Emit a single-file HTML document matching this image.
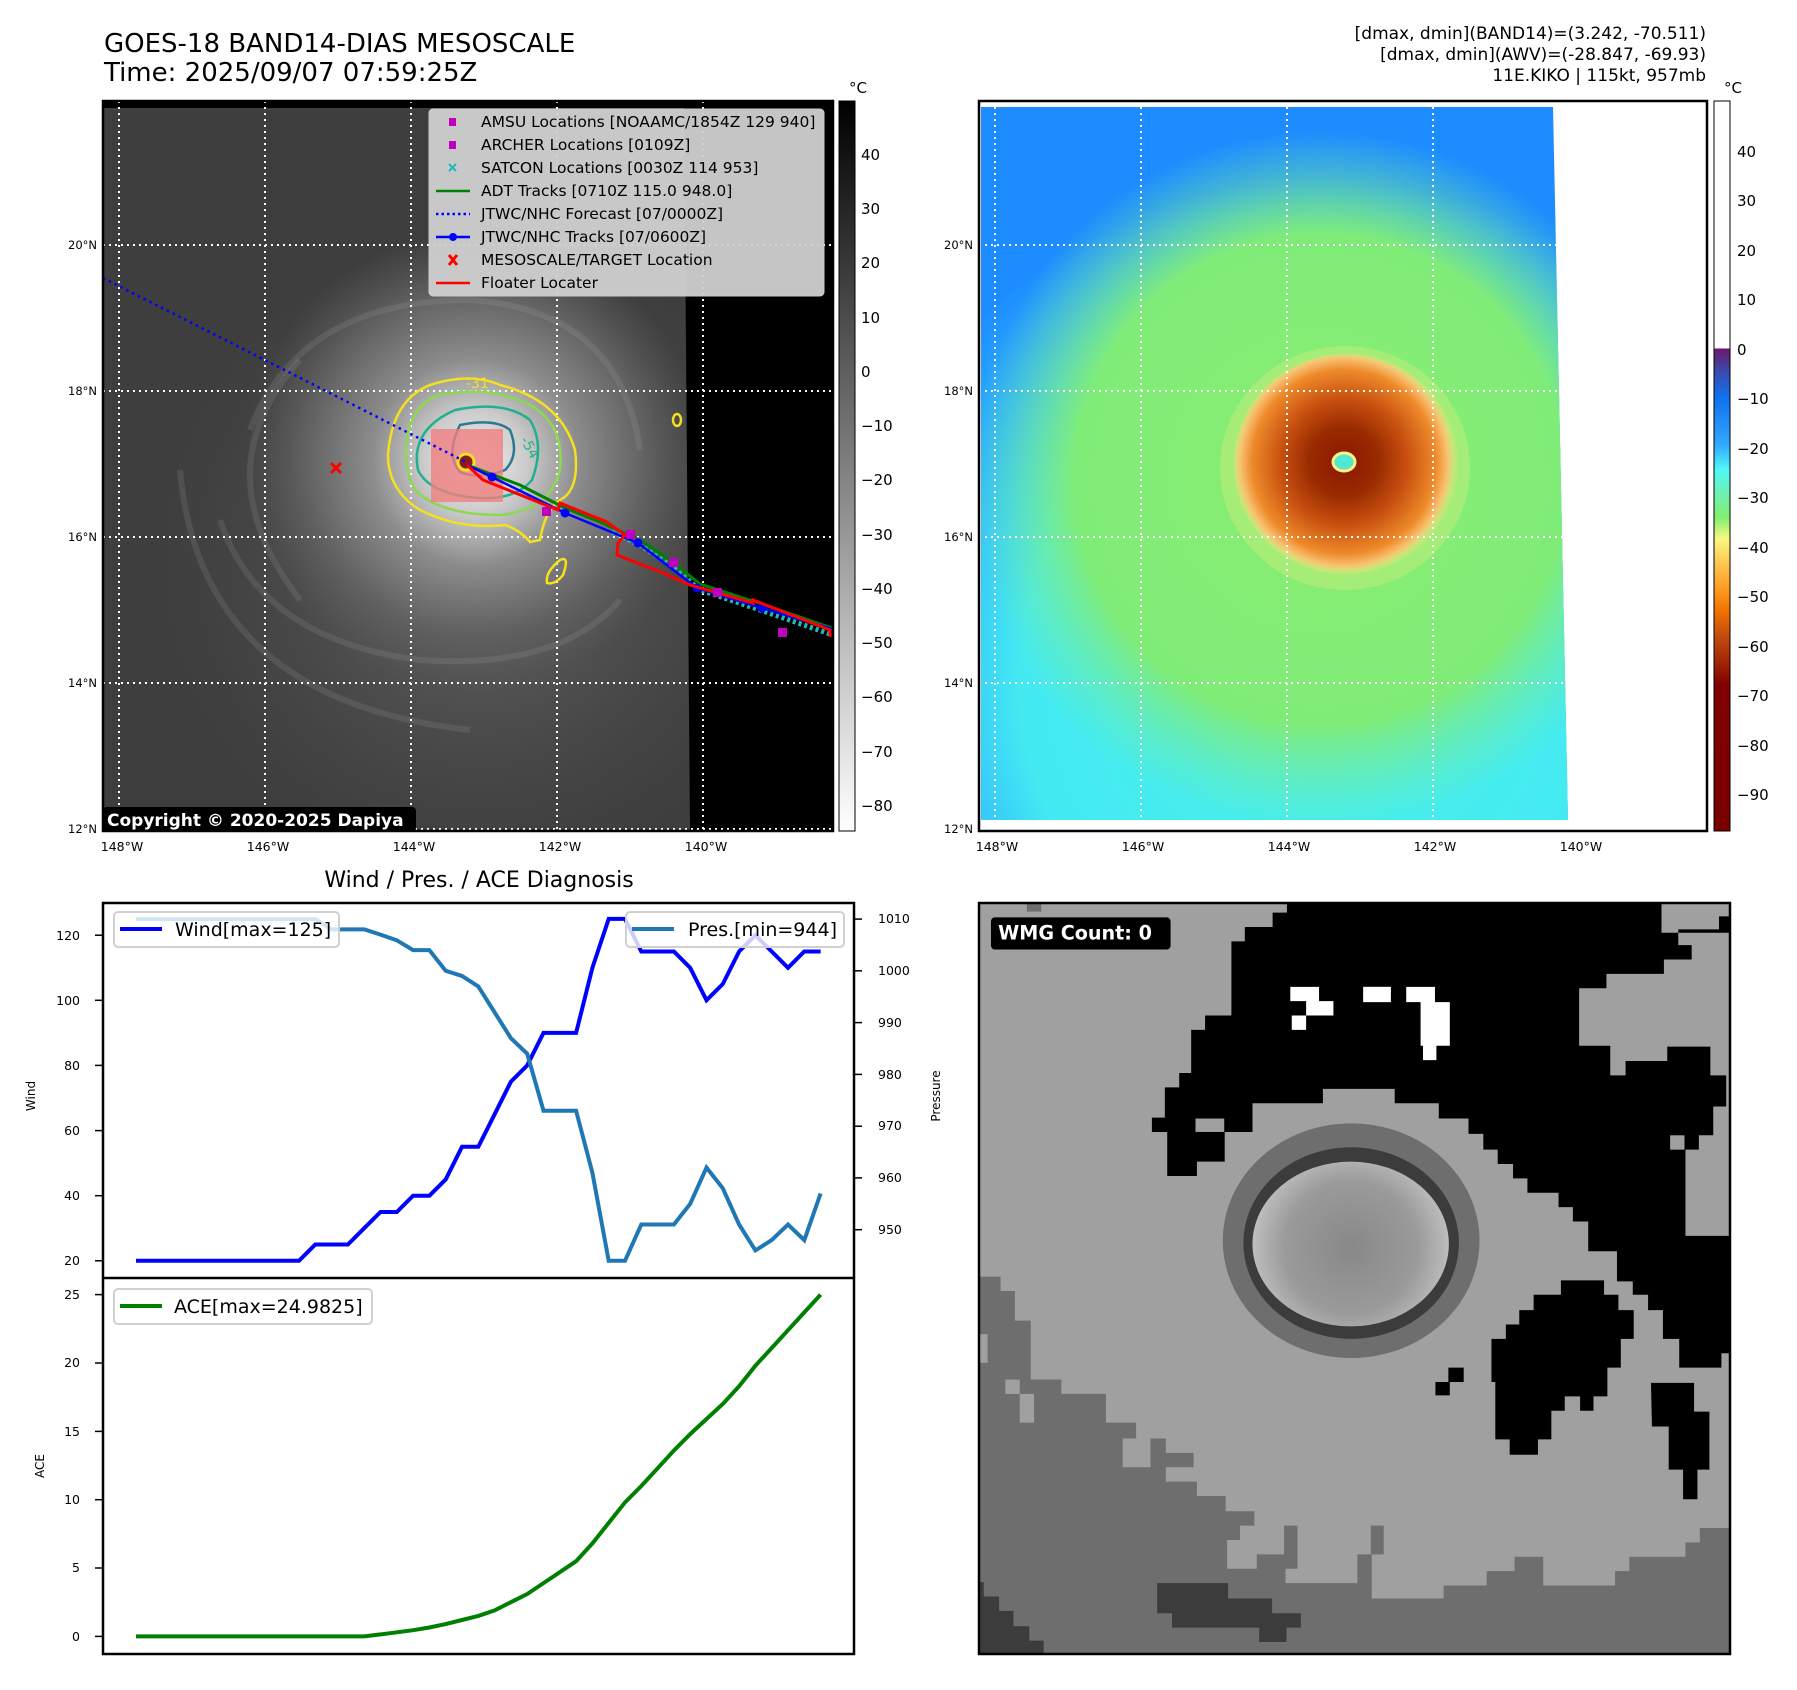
<!DOCTYPE html>
<html><head><meta charset="utf-8"><style>
html,body{margin:0;padding:0;background:#fff;}
svg{display:block;font-family:"DejaVu Sans","Liberation Sans",sans-serif;}
</style></head><body>
<svg width="1797" height="1690" viewBox="0 0 1797 1690" xmlns="http://www.w3.org/2000/svg">
<defs>
<clipPath id="c1"><rect x="103" y="101" width="730" height="730"/></clipPath>
<clipPath id="c2"><rect x="979" y="101" width="728" height="730"/></clipPath>
<clipPath id="c3"><rect x="103" y="903" width="751" height="751"/></clipPath>
<linearGradient id="cb1" x1="0" y1="0" x2="0" y2="1"><stop offset="0" stop-color="#000"/><stop offset="1" stop-color="#fff"/></linearGradient>
<linearGradient id="cb2" x1="0" y1="0" x2="0" y2="1">
<stop offset="0" stop-color="#fff"/><stop offset="0.338" stop-color="#fff"/>
<stop offset="0.34" stop-color="#6a1a6e"/><stop offset="0.37" stop-color="#3a4aaa"/>
<stop offset="0.405" stop-color="#1070ee"/><stop offset="0.47" stop-color="#30a8ff"/>
<stop offset="0.505" stop-color="#50f8f8"/><stop offset="0.54" stop-color="#70f0b0"/>
<stop offset="0.57" stop-color="#80f070"/><stop offset="0.6" stop-color="#f8f880"/>
<stop offset="0.635" stop-color="#fdc450"/><stop offset="0.67" stop-color="#ff9a20"/>
<stop offset="0.7" stop-color="#f07000"/><stop offset="0.735" stop-color="#c04a10"/>
<stop offset="0.77" stop-color="#a02505"/><stop offset="0.8" stop-color="#800000"/>
<stop offset="1" stop-color="#7a0000"/></linearGradient>
<radialGradient id="g1" cx="475" cy="462" r="230" gradientUnits="userSpaceOnUse">
<stop offset="0" stop-color="#eeeeee"/><stop offset="0.22" stop-color="#cccccc"/><stop offset="0.45" stop-color="#8c8c8c"/><stop offset="0.75" stop-color="#606060"/><stop offset="1" stop-color="#555" stop-opacity="0"/></radialGradient>
<radialGradient id="g1b" cx="480" cy="560" r="330" gradientUnits="userSpaceOnUse">
<stop offset="0" stop-color="#6a6a6a"/><stop offset="1" stop-color="#4a4a4a" stop-opacity="0"/></radialGradient>
<radialGradient id="m2cy" cx="1320" cy="680" r="500" gradientUnits="userSpaceOnUse">
<stop offset="0" stop-color="#48f0e8"/><stop offset="0.6" stop-color="#44eaf2"/><stop offset="1" stop-color="#40d8ff" stop-opacity="0"/></radialGradient>
<radialGradient id="m2gr" cx="1320" cy="480" r="350" gradientUnits="userSpaceOnUse">
<stop offset="0" stop-color="#8aee70"/><stop offset="0.7" stop-color="#80ec78"/><stop offset="1" stop-color="#70ecb0" stop-opacity="0"/></radialGradient>
<radialGradient id="m2core" cx="1344" cy="462" r="115" gradientUnits="userSpaceOnUse">
<stop offset="0" stop-color="#8a1800"/><stop offset="0.3" stop-color="#9a2a00"/><stop offset="0.55" stop-color="#c85010"/><stop offset="0.8" stop-color="#ee8a2a"/><stop offset="0.9" stop-color="#f8c070"/><stop offset="1" stop-color="#f8f080" stop-opacity="0"/></radialGradient>
<radialGradient id="eye3" cx="777" cy="720" r="230" gradientUnits="userSpaceOnUse">
<stop offset="0" stop-color="#888"/><stop offset="0.6" stop-color="#9a9a9a"/><stop offset="0.85" stop-color="#b8b8b8"/><stop offset="1" stop-color="#d0d0d0"/></radialGradient>
</defs>

<text x="104" y="52" font-size="26">GOES-18 BAND14-DIAS MESOSCALE</text>
<text x="104" y="81" font-size="26">Time: 2025/09/07 07:59:25Z</text>
<text x="1706" y="39" font-size="17" text-anchor="end">[dmax, dmin](BAND14)=(3.242, -70.511)</text>
<text x="1706" y="60" font-size="17" text-anchor="end">[dmax, dmin](AWV)=(-28.847, -69.93)</text>
<text x="1706" y="81" font-size="17" text-anchor="end">11E.KIKO | 115kt, 957mb</text>

<!-- MAP 1 -->
<g clip-path="url(#c1)">
<rect x="103" y="101" width="730" height="730" fill="#3e3e3e"/>
<rect x="103" y="101" width="730" height="730" fill="url(#g1b)"/>
<rect x="103" y="101" width="730" height="730" fill="url(#g1)"/>
<g fill="none" stroke="#b8b8b8" stroke-opacity="0.14" stroke-width="6">
<path d="M250 430 Q300 300 470 300 Q620 310 640 450"/>
<path d="M220 520 Q260 640 420 660 Q560 670 620 600"/>
<path d="M180 470 Q200 700 470 730"/>
<path d="M300 360 Q200 470 300 600"/>
</g>
<polygon points="684,101 833,101 833,831 690,831" fill="#000"/>
<rect x="103" y="101" width="730" height="7" fill="#000"/>
<g stroke="#fff" stroke-width="2" stroke-dasharray="2,4">
<line x1="119" y1="101" x2="119" y2="831"/><line x1="265" y1="101" x2="265" y2="831"/><line x1="411" y1="101" x2="411" y2="831"/><line x1="557" y1="101" x2="557" y2="831"/><line x1="703" y1="101" x2="703" y2="831"/>
<line x1="103" y1="245" x2="833" y2="245"/><line x1="103" y1="391" x2="833" y2="391"/><line x1="103" y1="537" x2="833" y2="537"/><line x1="103" y1="683" x2="833" y2="683"/><line x1="103" y1="829" x2="833" y2="829"/>
</g>
<path d="M430 385 Q470 372 500 385 Q560 400 575 450 Q580 490 560 500 Q545 510 540 540 L530 542 Q520 530 505 525 Q460 530 420 510 Q388 490 388 455 Q392 400 430 385 Z" fill="none" stroke="#f5e020" stroke-width="2.5"/>
<path d="M560 560 Q570 555 563 575 Q555 585 547 583 Q545 572 560 560Z" fill="none" stroke="#f5e020" stroke-width="2.5"/>
<ellipse cx="677" cy="420" rx="4" ry="6" fill="none" stroke="#f5e020" stroke-width="2.5"/>
<path d="M440 395 Q490 385 530 405 Q565 425 560 470 Q550 510 500 515 Q440 515 415 490 Q400 460 410 425 Q420 400 440 395Z" fill="none" stroke="#8cd850" stroke-width="2.5"/>
<path d="M455 410 Q505 400 530 420 Q545 445 532 480 Q515 500 480 498 Q430 495 418 470 Q410 430 455 410Z" fill="none" stroke="#20b090" stroke-width="2.5"/>
<path d="M460 425 Q495 418 510 430 Q520 455 505 470 Q480 480 460 472 Q445 455 460 425Z" fill="none" stroke="#2a7a90" stroke-width="2.5"/>
<text x="466" y="388" font-size="14" fill="#f5e020">-31</text>
<text x="520" y="440" font-size="14" fill="#20b090" transform="rotate(60 520 440)">-54</text>
<rect x="431" y="429" width="72" height="73" fill="#f08080" fill-opacity="0.8"/>
<circle cx="466" cy="462" r="8" fill="#8a1a1a" stroke="#f0e020" stroke-width="3"/>
<line x1="103" y1="278" x2="466" y2="462" stroke="#0000ff" stroke-width="2.5" stroke-dasharray="2.5,4"/>
<path d="M612 532 L640 545 L670 565 L700 590 L760 610 L830 634" fill="none" stroke="#1cbcbc" stroke-width="5" stroke-dasharray="3,3"/>
<polyline points="467,465 520,485 565,508 600,522 640,540 670,560 700,584 762,604 832,628" fill="none" stroke="#008000" stroke-width="3"/>
<polyline points="467,465 492,477 565,513 638,543 697,588 762,608 832,629" fill="none" stroke="#0000ff" stroke-width="2.5"/>
<g fill="#0000ff"><circle cx="492" cy="477" r="4.5"/><circle cx="565" cy="513" r="4.5"/><circle cx="638" cy="543" r="4.5"/><circle cx="697" cy="588" r="4.5"/><circle cx="762" cy="608" r="4.5"/></g>
<polyline points="467,465 483,480 558,510 560,503 607,522 625,535 618,543 617,555 663,573 690,585 753,603 753,600 830,630 830,637" fill="none" stroke="#ff0000" stroke-width="3"/>
<g fill="#bf00bf"><rect x="542" y="507" width="9" height="9"/><rect x="669" y="558" width="9" height="9"/><rect x="713" y="588" width="9" height="9"/><rect x="778" y="628" width="9" height="9"/><rect x="626" y="530" width="9" height="9"/></g>
<path d="M331 463 L341 473 M341 463 L331 473" stroke="#ff0000" stroke-width="3"/>
<rect x="429" y="109" width="395" height="187" rx="4" fill="#d0d0d0" fill-opacity="0.95" stroke="#ccc"/>
<g font-size="15.5">
<rect x="449" y="118" width="7" height="8" fill="#bf00bf"/><text x="481" y="127">AMSU Locations [NOAAMC/1854Z 129 940]</text>
<rect x="449" y="141" width="7" height="8" fill="#bf00bf"/><text x="481" y="150">ARCHER Locations [0109Z]</text>
<path d="M449 164 L456 171 M456 164 L449 171" stroke="#1cbcbc" stroke-width="2"/><text x="481" y="173">SATCON Locations [0030Z 114 953]</text>
<line x1="436" y1="191" x2="470" y2="191" stroke="#008000" stroke-width="2.5"/><text x="481" y="196">ADT Tracks [0710Z 115.0 948.0]</text>
<line x1="436" y1="214" x2="470" y2="214" stroke="#0000ff" stroke-width="2.5" stroke-dasharray="2.5,3"/><text x="481" y="219">JTWC/NHC Forecast [07/0000Z]</text>
<line x1="436" y1="237" x2="470" y2="237" stroke="#0000ff" stroke-width="2.5"/><circle cx="453" cy="237" r="4" fill="#0000ff"/><text x="481" y="242">JTWC/NHC Tracks [07/0600Z]</text>
<path d="M449 255 L457 265 M457 255 L449 265" stroke="#ff0000" stroke-width="3"/><text x="481" y="265">MESOSCALE/TARGET Location</text>
<line x1="436" y1="283" x2="470" y2="283" stroke="#ff0000" stroke-width="2.5"/><text x="481" y="288">Floater Locater</text>
</g>
<rect x="103" y="807" width="313" height="25" rx="4" fill="#000"/>
<text x="107" y="826" font-size="17" font-weight="bold" fill="#fff">Copyright © 2020-2025 Dapiya</text>
</g>
<rect x="103" y="101" width="730" height="730" fill="none" stroke="#000" stroke-width="2.5"/>
<rect x="839" y="101" width="16" height="730" fill="url(#cb1)" stroke="#000" stroke-width="1"/>
<text x="849" y="93" font-size="15">°C</text>
<g font-size="15">
<text x="861" y="160">40</text><text x="861" y="214">30</text><text x="861" y="268">20</text><text x="861" y="323">10</text><text x="861" y="377">0</text><text x="861" y="431">−10</text><text x="861" y="485">−20</text><text x="861" y="540">−30</text><text x="861" y="594">−40</text><text x="861" y="648">−50</text><text x="861" y="702">−60</text><text x="861" y="757">−70</text><text x="861" y="811">−80</text>
</g>
<g font-size="11.5" text-anchor="end">
<text x="97" y="249">20°N</text><text x="97" y="395">18°N</text><text x="97" y="541">16°N</text><text x="97" y="687">14°N</text><text x="97" y="833">12°N</text>
<text x="973" y="249">20°N</text><text x="973" y="395">18°N</text><text x="973" y="541">16°N</text><text x="973" y="687">14°N</text><text x="973" y="833">12°N</text>
</g>
<g font-size="12.5" text-anchor="middle">
<text x="122" y="851">148°W</text><text x="268" y="851">146°W</text><text x="414" y="851">144°W</text><text x="560" y="851">142°W</text><text x="706" y="851">140°W</text>
<text x="997" y="851">148°W</text><text x="1143" y="851">146°W</text><text x="1289" y="851">144°W</text><text x="1435" y="851">142°W</text><text x="1581" y="851">140°W</text>
</g>

<!-- MAP 2 -->
<g clip-path="url(#c2)">
<rect x="979" y="101" width="728" height="730" fill="#fff"/>
<polygon points="981,107 1553,107 1568,820 981,820" fill="#1c8cff"/>
<polygon points="981,107 1553,107 1568,820 981,820" fill="url(#m2cy)"/>
<polygon points="981,107 1553,107 1568,820 981,820" fill="url(#m2gr)"/>
<ellipse cx="1345" cy="468" rx="125" ry="122" fill="#f0f080" opacity="0.3"/>
<ellipse cx="1346" cy="464" rx="112" ry="110" fill="url(#m2core)"/>
<ellipse cx="1344" cy="462" rx="11" ry="9" fill="#50e8d0" stroke="#f8f080" stroke-width="3"/>
<g stroke="#fff" stroke-width="2" stroke-dasharray="2,4">
<line x1="995" y1="101" x2="995" y2="831"/><line x1="1141" y1="101" x2="1141" y2="831"/><line x1="1287" y1="101" x2="1287" y2="831"/><line x1="1433" y1="101" x2="1433" y2="831"/><line x1="1579" y1="101" x2="1579" y2="831"/>
<line x1="979" y1="245" x2="1707" y2="245"/><line x1="979" y1="391" x2="1707" y2="391"/><line x1="979" y1="537" x2="1707" y2="537"/><line x1="979" y1="683" x2="1707" y2="683"/><line x1="979" y1="829" x2="1707" y2="829"/>
</g>
</g>
<rect x="979" y="101" width="728" height="730" fill="none" stroke="#000" stroke-width="2.5"/>
<rect x="1714" y="101" width="16" height="730" fill="url(#cb2)" stroke="#000" stroke-width="1"/>
<text x="1724" y="93" font-size="15">°C</text>
<g font-size="15">
<text x="1737" y="157">40</text><text x="1737" y="206">30</text><text x="1737" y="256">20</text><text x="1737" y="305">10</text><text x="1737" y="355">0</text><text x="1737" y="404">−10</text><text x="1737" y="454">−20</text><text x="1737" y="503">−30</text><text x="1737" y="553">−40</text><text x="1737" y="602">−50</text><text x="1737" y="652">−60</text><text x="1737" y="701">−70</text><text x="1737" y="751">−80</text><text x="1737" y="800">−90</text>
</g>

<!-- BOTTOM LEFT CHART -->
<text x="479" y="887" font-size="22" text-anchor="middle">Wind / Pres. / ACE Diagnosis</text>
<g clip-path="url(#c3)">
<polyline fill="none" stroke="#0000ff" stroke-width="4" points="136,1260.8 299,1260.8 315.3,1244.5 347.9,1244.5 364.2,1228.2 380.5,1212 396.8,1212 413.1,1195.7 429.4,1195.7 445.7,1179.4 462,1146.8 478.3,1146.8 494.6,1114.3 510.9,1081.7 527.2,1065.4 543.5,1032.9 576.1,1032.9 592.4,967.8 608.7,918.9 625,918.9 641.3,951.5 673.9,951.5 690.2,967.8 706.5,1000.3 722.8,984 739.1,951.5 755.4,935.2 771.7,951.5 788,967.8 804.3,951.5 820.6,951.5"/>
<polyline fill="none" stroke="#1f77b4" stroke-width="4" points="136,919.1 315.3,919.1 331.6,929.4 364.2,929.4 380.5,934.6 396.8,940.3 413.1,950.1 429.4,950.1 445.7,970.8 462,976 478.3,986.4 494.6,1012.3 510.9,1038.2 527.2,1053.7 543.5,1110.7 576.1,1110.7 592.4,1172.8 608.7,1260.8 625,1260.8 641.3,1224.5 673.9,1224.5 690.2,1203.8 706.5,1167.6 722.8,1188.3 739.1,1224.5 755.4,1250.4 771.7,1240.1 788,1224.5 804.3,1240.1 820.6,1193.5"/>
<polyline fill="none" stroke="#008000" stroke-width="4" points="136,1636.4 364.2,1636.4 380.5,1634.4 396.8,1632.3 413.1,1630.2 429.4,1627.5 445.7,1624.1 462,1620 478.3,1615.9 494.6,1610.4 510.9,1602.2 527.2,1594 543.5,1583.1 559.8,1572.2 576.1,1561.2 592.4,1543.4 608.7,1522.9 625,1502.4 641.3,1486 657.6,1468.3 673.9,1450.5 690.2,1434.1 706.5,1419 722.8,1404 739.1,1386.2 755.4,1365.7 771.7,1348 788,1330.2 804.3,1312.4 820.6,1294.6"/>
</g>
<rect x="114" y="912" width="225" height="35" rx="4" fill="#fff" fill-opacity="0.8" stroke="#d0d0d0" stroke-width="2"/>
<line x1="120" y1="929" x2="162" y2="929" stroke="#0000ff" stroke-width="4"/>
<text x="175" y="936" font-size="19">Wind[max=125]</text>
<rect x="626" y="912" width="218" height="35" rx="4" fill="#fff" fill-opacity="0.8" stroke="#d0d0d0" stroke-width="2"/>
<line x1="632" y1="929" x2="674" y2="929" stroke="#1f77b4" stroke-width="4"/>
<text x="688" y="936" font-size="19">Pres.[min=944]</text>
<rect x="114" y="1289" width="258" height="35" rx="4" fill="#fff" fill-opacity="0.8" stroke="#d0d0d0" stroke-width="2"/>
<line x1="120" y1="1306" x2="162" y2="1306" stroke="#008000" stroke-width="4"/>
<text x="174" y="1313" font-size="19">ACE[max=24.9825]</text>
<rect x="103" y="903" width="751" height="751" fill="none" stroke="#000" stroke-width="2.5"/>
<line x1="103" y1="1278" x2="854" y2="1278" stroke="#000" stroke-width="2.5"/>
<g stroke="#000" stroke-width="1.5">
<line x1="95" y1="1260.8" x2="103" y2="1260.8"/><line x1="95" y1="1195.7" x2="103" y2="1195.7"/><line x1="95" y1="1130.6" x2="103" y2="1130.6"/><line x1="95" y1="1065.4" x2="103" y2="1065.4"/><line x1="95" y1="1000.3" x2="103" y2="1000.3"/><line x1="95" y1="935.2" x2="103" y2="935.2"/>
<line x1="854" y1="1229.7" x2="862" y2="1229.7"/><line x1="854" y1="1177.9" x2="862" y2="1177.9"/><line x1="854" y1="1126.2" x2="862" y2="1126.2"/><line x1="854" y1="1074.4" x2="862" y2="1074.4"/><line x1="854" y1="1022.6" x2="862" y2="1022.6"/><line x1="854" y1="970.8" x2="862" y2="970.8"/><line x1="854" y1="919.1" x2="862" y2="919.1"/>
<line x1="95" y1="1636.4" x2="103" y2="1636.4"/><line x1="95" y1="1568" x2="103" y2="1568"/><line x1="95" y1="1499.7" x2="103" y2="1499.7"/><line x1="95" y1="1431.4" x2="103" y2="1431.4"/><line x1="95" y1="1363" x2="103" y2="1363"/><line x1="95" y1="1294.6" x2="103" y2="1294.6"/>
</g>
<g font-size="12.5" text-anchor="end">
<text x="80" y="1265">20</text><text x="80" y="1200">40</text><text x="80" y="1135">60</text><text x="80" y="1070">80</text><text x="80" y="1005">100</text><text x="80" y="940">120</text>
<text x="80" y="1641">0</text><text x="80" y="1572">5</text><text x="80" y="1504">10</text><text x="80" y="1436">15</text><text x="80" y="1367">20</text><text x="80" y="1299">25</text>
</g>
<g font-size="12.5">
<text x="878" y="1234">950</text><text x="878" y="1182">960</text><text x="878" y="1130">970</text><text x="878" y="1079">980</text><text x="878" y="1027">990</text><text x="878" y="975">1000</text><text x="878" y="923">1010</text>
</g>
<text x="35" y="1096" font-size="12" transform="rotate(-90 35 1096)" text-anchor="middle">Wind</text>
<text x="44" y="1466" font-size="12" transform="rotate(-90 44 1466)" text-anchor="middle">ACE</text>
<text x="940" y="1096" font-size="12" transform="rotate(-90 940 1096)" text-anchor="middle">Pressure</text>

<!-- BOTTOM RIGHT -->
<svg x="979" y="903" width="751" height="751" viewBox="0 0 1568 1568">
<rect width="1568" height="1568" fill="#a0a0a0"/>
<polygon fill="#000" points="643,0 1568,0 1568,940 1550,940 1550,970 1462,970 1462,910 1428,910 1428,850 1397,850 1397,818 1365,818 1365,790 1332,790 1332,727 1272,727 1272,665 1240,665 1240,635 1210,635 1210,605 1145,605 1145,575 1115,575 1115,545 1083,545 1083,515 1053,515 1053,482 1022,482 1022,450 960,450 960,418 868,418 868,388 718,388 718,418 571,418 571,478 513,478 513,540 455,540 455,570 393,570 393,478 361,478 361,448 388,448 388,385 418,385 418,355 443,355 443,265 472,265 472,235 527,235 527,80 555,80 555,50 613,50 613,20 643,20"/>
<polygon fill="#a0a0a0" points="1425,0 1568,0 1568,28 1545,28 1545,55 1460,55 1460,88 1488,88 1488,118 1430,118 1430,148 1310,148 1310,178 1253,178 1253,298 1318,298 1318,360 1350,360 1350,330 1437,330 1437,300 1527,300 1527,360 1560,360 1560,425 1533,425 1533,485 1503,485 1503,515 1475,515 1475,695 1568,695 1568,62 1425,62"/>
<polygon fill="#a0a0a0" points="1425,0 1515,0 1515,28 1425,28"/>
<rect x="452" y="450" width="60" height="28" fill="#a0a0a0"/>
<rect x="1443" y="485" width="30" height="30" fill="#a0a0a0"/>
<polygon fill="#000" points="1070,910 1100,910 1100,880 1128,880 1128,850 1158,850 1158,818 1215,818 1215,788 1305,788 1305,818 1335,818 1335,850 1367,850 1367,910 1340,910 1340,970 1312,970 1312,1030 1283,1030 1283,1060 1255,1060 1255,1030 1223,1030 1223,1060 1195,1060 1195,1120 1167,1120 1167,1152 1108,1152 1108,1120 1078,1120 1078,1000 1070,1000"/>
<polygon fill="#000" points="1403,1002 1493,1002 1493,1062 1525,1062 1525,1183 1500,1183 1500,1245 1470,1245 1470,1183 1440,1183 1440,1093 1405,1093"/>
<polygon fill="#000" points="980,970 1012,970 1012,1000 983,1000 983,1028 953,1028 953,1000 980,1000"/>
<g fill="#fff">
<polygon points="650,175 710,175 710,205 740,205 740,235 683,235 683,265 653,265 653,235 683,235 683,205 650,205"/>
<rect x="802" y="175" width="58" height="32"/>
<polygon points="892,175 952,175 952,207 983,207 983,298 955,298 955,328 927,328 927,298 922,298 922,207 892,207"/>
</g>
<polygon fill="#6e6e6e" points="0,780 45,780 45,810 75,810 75,872 108,872 108,995 172,995 172,1025 265,1025 265,1085 328,1085 328,1118 390,1118 390,1148 448,1148 448,1178 390,1178 390,1208 455,1208 455,1238 515,1238 515,1270 575,1270 575,1300 545,1300 545,1330 518,1330 518,1390 580,1390 580,1360 637,1360 637,1300 665,1300 665,1390 640,1390 640,1420 790,1420 790,1360 818,1360 818,1300 845,1300 845,1360 820,1360 820,1452 970,1452 970,1425 1060,1425 1060,1395 1118,1395 1118,1365 1178,1365 1178,1425 1328,1425 1328,1395 1358,1395 1358,1365 1475,1365 1475,1335 1505,1335 1505,1305 1568,1305 1568,1568 0,1568"/>
<rect x="0" y="900" width="18" height="60" fill="#a0a0a0"/>
<rect x="55" y="995" width="30" height="30" fill="#a0a0a0"/>
<rect x="85" y="1025" width="30" height="60" fill="#a0a0a0"/>
<rect x="300" y="1118" width="58" height="60" fill="#a0a0a0"/>
<polygon fill="#3c3c3c" points="372,1420 520,1420 520,1452 612,1452 612,1483 672,1483 672,1513 642,1513 642,1543 585,1543 585,1513 403,1513 403,1483 372,1483"/>
<polygon fill="#3c3c3c" points="0,1418 10,1418 10,1448 42,1448 42,1478 72,1478 72,1510 105,1510 105,1540 135,1540 135,1568 0,1568"/>
<rect x="100" y="0" width="30" height="18" fill="#6e6e6e"/>
<ellipse cx="777" cy="705" rx="268" ry="245" fill="#6e6e6e"/>
<ellipse cx="777" cy="710" rx="225" ry="200" fill="#3c3c3c"/>
<ellipse cx="776" cy="712" rx="205" ry="172" fill="url(#eye3)"/>
<rect x="25" y="30" width="375" height="67" rx="8" fill="#000"/>
<text x="40" y="76" font-size="40" font-weight="bold" fill="#fff">WMG Count: 0</text>
</svg>
<rect x="979" y="903" width="751" height="751" fill="none" stroke="#000" stroke-width="2.5"/>
</svg>
</body></html>
